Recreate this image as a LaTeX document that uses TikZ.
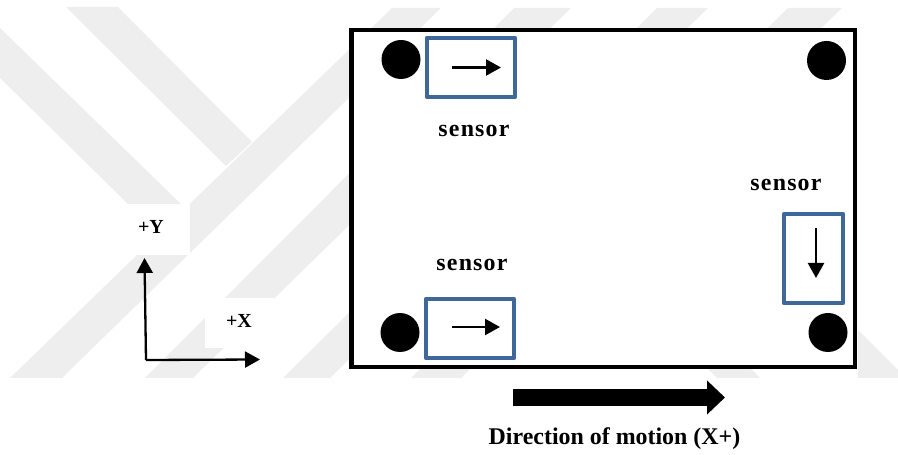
\documentclass[tikz,border=0pt]{standalone}
\usepackage{fontspec}
\setmainfont{Liberation Serif}
\usetikzlibrary{arrows.meta}
\definecolor{mark}{HTML}{EEEEEE}
\definecolor{sensorblue}{HTML}{3F6797}
\tikzset{
  x=1bp,y=-1bp,
  stripe/.style={fill=mark,draw=none},
  sensorbox/.style={draw=sensorblue,line width=4.3bp,line join=round},
  post/.style={circle,fill=black,draw=none,inner sep=0pt,minimum size=39bp},
  lbl/.style={inner sep=0pt,font=\bfseries\fontsize{24}{24}\selectfont},
  senslbl/.style={inner sep=0pt,font=\bfseries\fontsize{24}{24}\selectfont\addfontfeature{LetterSpace=5}},
  axlbl/.style={inner sep=0pt,font=\bfseries\fontsize{20}{20}\selectfont},
  thin arrow/.style={line width=2.3bp,-{Triangle[length=15bp,width=16bp]}},
  big arrow/.style={line width=17bp,-{Triangle[length=18bp,width=33bp]}},
}
\begin{document}
\begin{tikzpicture}
\useasboundingbox (0,0) rectangle (898,455);
% watermark
\fill[stripe] (0,28) -- (181,204) -- (128,204) -- (0,78) -- cycle;
\fill[stripe] (66,7) -- (118,7) -- (252,142) -- (226,166) -- cycle;
\fill[stripe] (10,378) -- (62,378) -- (441,8) -- (392,8) -- cycle;
\fill[stripe] (145,378) -- (193,378) -- (571,8) -- (514,8) -- cycle;
\fill[stripe] (283,378) -- (330,378) -- (708,8) -- (657,8) -- cycle;
\fill[stripe] (411,378) -- (461,378) -- (842,8) -- (788,8) -- cycle;
\fill[stripe] (707,368) -- (750,368) -- (760,378) -- (717,378) -- cycle;
\fill[stripe] (858,330) -- (898,370) -- (898,378) -- (858,378) -- cycle;
% white label patches
\fill[white] (128,204) rectangle (190,255);
\fill[white] (205,298) rectangle (278,348);
% frame
\fill[white] (351.5,30) rectangle (855,367);
\node[draw=black,line width=4.5bp,inner sep=0pt,minimum width=503.5bp,minimum height=337bp] (frame) at (603.25,198.5) {};
% posts
\node[post] (p1) at (401,59.5) {};
\node[post] (p2) at (826.5,60.5) {};
\node[post] (p3) at (400,332.5) {};
\node[post] (p4) at (828,332.5) {};
% sensors
\node[sensorbox,inner sep=0pt,minimum width=88bp,minimum height=59bp] (s1) at (471,67.5) {};
\node[sensorbox,inner sep=0pt,minimum width=88bp,minimum height=59bp] (s2) at (470,328.5) {};
\node[sensorbox,inner sep=0pt,minimum width=59bp,minimum height=89bp] (s3) at (813.5,258.5) {};
\coordinate (a1s) at (452,67.5); \coordinate (a1e) at (501,67.5);
\coordinate (a2s) at (452,327); \coordinate (a2e) at (500,327);
\coordinate (a3s) at (816,228); \coordinate (a3e) at (816,278);
\draw[thin arrow] (a1s) -- (a1e);
\draw[thin arrow] (a2s) -- (a2e);
\draw[thin arrow] (a3s) -- (a3e);
\node[senslbl] (t1) at (474,130.5) {sensor};
\node[senslbl] (t2) at (472,264.5) {sensor};
\node[senslbl] (t3) at (786,184.5) {sensor};
% axes
\coordinate (o) at (146,360);
\coordinate (ye) at (144.5,258);
\coordinate (xe) at (260,359.5);
\draw[thin arrow] (o) -- (ye);
\draw[thin arrow] (o) -- (xe);
\node[axlbl] (ly) at (151,227) {+Y};
\node[axlbl] (lx) at (239,321) {+X};
% motion
\coordinate (ms) at (513,397.5);
\coordinate (me) at (725,397.5);
\draw[big arrow] (ms) -- (me);
\node[lbl] (dm) at (614.5,439) {Direction of motion (X+)};
\end{tikzpicture}
\end{document}
